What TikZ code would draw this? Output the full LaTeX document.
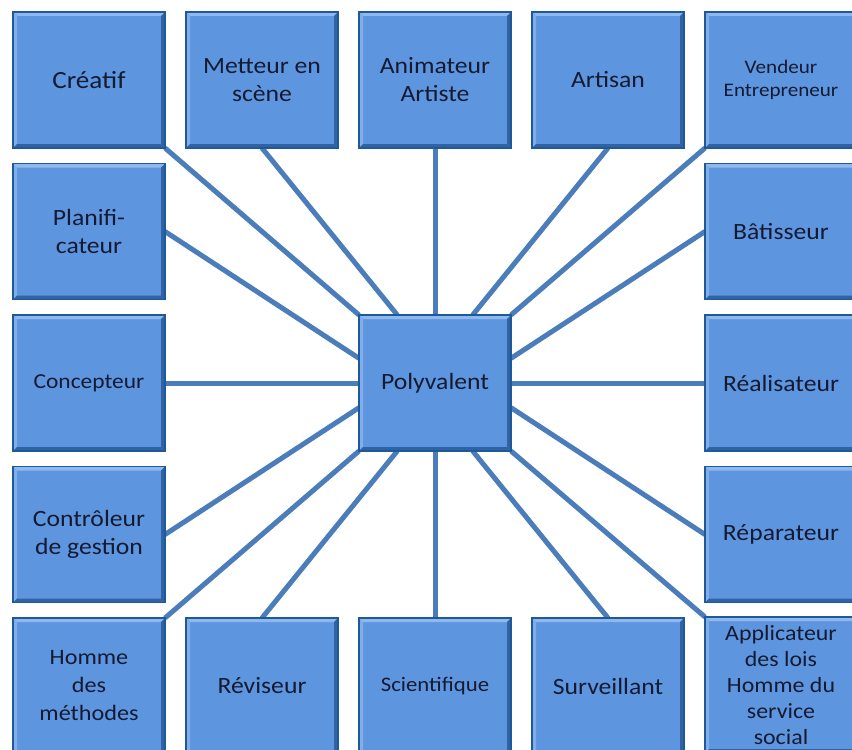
\documentclass[tikz,border=0pt]{standalone}
\usepackage{fontspec}
\setmainfont{Carlito}[FakeStretch=1.1]
\usetikzlibrary{backgrounds}
\definecolor{tilefill}{HTML}{5D96DF}
\definecolor{tileedge}{HTML}{1F5A96}
\definecolor{tilelight}{HTML}{8FB8EF}
\definecolor{tiledark}{HTML}{2F63A6}
\definecolor{spoke}{HTML}{4A7DBA}
\definecolor{ink}{HTML}{151A33}
\tikzset{
 tile/.style={draw=tileedge,line width=1.2pt,fill=tilefill,minimum width=114pt,minimum height=102pt,
  inner sep=0pt,outer sep=0pt,text=ink,align=center,font=\fontsize{17.5}{21}\selectfont,
  path picture={
   \fill[tilelight] (path picture bounding box.north west)--(path picture bounding box.north east)
    --([shift={(-3pt,-3pt)}]path picture bounding box.north east)--([shift={(3pt,-3pt)}]path picture bounding box.north west)--cycle;
   \fill[tilelight!70!tilefill] (path picture bounding box.north west)--([shift={(3pt,-3pt)}]path picture bounding box.north west)
    --([shift={(3pt,3pt)}]path picture bounding box.south west)--(path picture bounding box.south west)--cycle;
   \fill[tiledark] (path picture bounding box.north east)--(path picture bounding box.south east)
    --([shift={(-3pt,3pt)}]path picture bounding box.south east)--([shift={(-3pt,-3pt)}]path picture bounding box.north east)--cycle;
   \fill[tiledark] (path picture bounding box.south west)--(path picture bounding box.south east)
    --([shift={(-3pt,3pt)}]path picture bounding box.south east)--([shift={(3pt,3pt)}]path picture bounding box.south west)--cycle;
  }},
 spokeline/.style={draw=spoke,line width=3.75pt}
}
\begin{document}
\begin{tikzpicture}[x=0.75pt,y=-0.75pt]
\useasboundingbox (0,0) rectangle (852,749);
\clip (0,0) rectangle (852,749);
\node[tile,font=\fontsize{18.5}{22}\selectfont] (cre) at (89,80) {Créatif};
\node[tile] (met) at (262,80) {Metteur en\\scène};
\node[tile] (ani) at (435,80) {Animateur\\Artiste};
\node[tile] (art) at (608,80) {Artisan};
\node[tile,font=\fontsize{14.4}{17.5}\selectfont] (ven) at (781,80) {Vendeur\\Entrepreneur};
\node[tile] (pla) at (89,231.5) {Planifi-\\cateur};
\node[tile] (bat) at (781,231.5) {Bâtisseur};
\node[tile,font=\fontsize{16}{19}\selectfont] (con) at (89,383) {Concepteur};
\node[tile] (pv) at (435,383) {Polyvalent};
\node[tile] (rea) at (781,383) {Réalisateur};
\node[tile] (ctr) at (89,534.5) {Contrôleur\\de gestion};
\node[tile] (rep) at (781,534.5) {Réparateur};
\node[tile,font=\fontsize{16.5}{21}\selectfont] (hom) at (89,686) {Homme\\des\\méthodes};
\node[tile] (rev) at (262,686) {Réviseur};
\node[tile,font=\fontsize{15.5}{19}\selectfont] (sci) at (435,686) {Scientifique};
\node[tile] (sur) at (608,686) {Surveillant};
\node[tile,font=\fontsize{16.3}{19.5}\selectfont] (app) at (781,685) {Applicateur\\des lois\\Homme du\\service\\social};
\begin{scope}[on background layer]
\fill[white] (0,0) rectangle (852,749);
\foreach \a/\b in {pv.north west/cre.south east,pv.119/met.south,pv.north/ani.south,pv.61/art.south,
  pv.north east/ven.south west,pv.162/pla.east,pv.18/bat.west,pv.west/con.east,pv.east/rea.west,
  pv.198/ctr.east,pv.-18/rep.west,pv.south west/hom.north east,pv.-119/rev.north,pv.south/sci.north,
  pv.-61/sur.north,pv.south east/app.north west}
 \draw[spokeline] (\a)--(\b);
\end{scope}
\end{tikzpicture}
\end{document}
